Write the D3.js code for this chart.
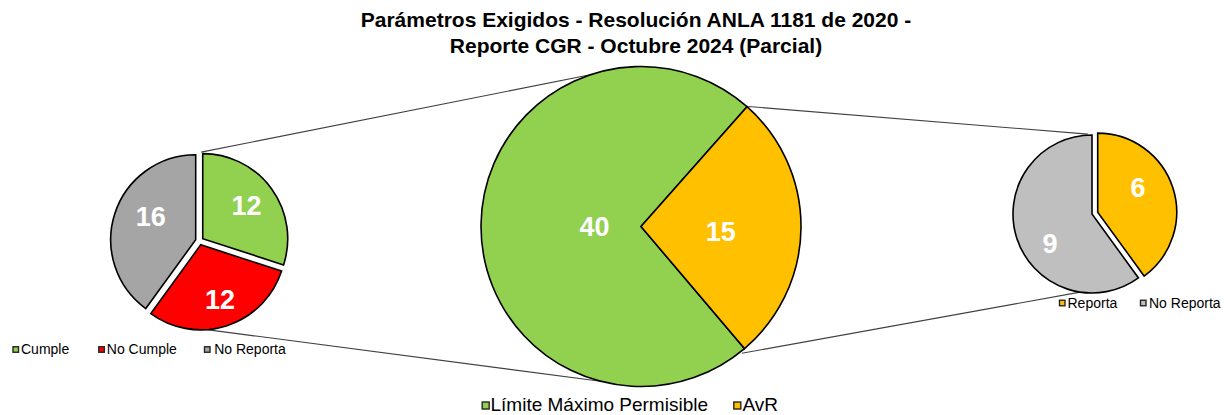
<!DOCTYPE html>
<html>
<head>
<meta charset="utf-8">
<script src="https://cdn.jsdelivr.net/npm/d3@7"></script>
<style>
  html, body { margin: 0; padding: 0; background: #fff; }
  svg { display: block; font-family: "Liberation Sans", Arial, sans-serif; }
</style>
</head>
<body>
<svg id="chart" width="1229" height="415"></svg>
<script>
// ---------- data ----------
const titleLines = ["Parámetros Exigidos - Resolución ANLA 1181 de 2020 -", "Reporte CGR - Octubre 2024 (Parcial)"];

const mainCategories = ["Límite Máximo Permisible", "AvR"];
const mainValues = [40, 15];

const leftCategories = ["Cumple", "No Cumple", "No Reporta"];
const leftValues = [12, 12, 16];

const rightCategories = ["Reporta", "No Reporta"];
const rightValues = [6, 9];

// ---------- styles / layout ----------
const mainColors = ["#92D050", "#FFC000"];
const leftColors = ["#92D050", "#FF0000", "#A5A5A5"];
const rightColors = ["#FFC000", "#BFBFBF"];
const deg = Math.PI / 180;

const pies = {
  main: { cx: 641, cy: 226.5, r: 160, start: 139.7, explode: [0, 0],
          labelFrac: [0.29, 0.5], labelNudge: [0, 2.5] },
  left: { cx: 199.5, cy: 241, r: 85, start: 0, explode: [4, 4, 4],
          labelFrac: [0.646, 0.685, 0.6], labelNudge: [-1, -1.4, 10] },
  right:{ cx: 1092, cy: 214, r: 79, start: 0, explode: [6, 0],
          labelFrac: [0.6, 0.645], labelNudge: [-13.6, -16.6] }
};

const svg = d3.select("#chart");

// title
svg.append("g").selectAll("text").data(titleLines).join("text")
  .attr("x", 636).attr("y", (d, i) => 27.3 + i * 26)
  .attr("text-anchor", "middle")
  .attr("font-size", 21).attr("font-weight", "bold").attr("fill", "#000")
  .text(d => d);

function polar(cx, cy, r, aDeg) {
  const a = aDeg * deg;
  return [cx + r * Math.sin(a), cy - r * Math.cos(a)];
}

function drawPie(cfg, values, colors) {
  const pie = d3.pie().sort(null).value(d => d)
    .startAngle(cfg.start * deg).endAngle((cfg.start + 360) * deg);
  const arcs = pie(values);
  const arc = d3.arc().innerRadius(0).outerRadius(cfg.r);
  const g = svg.append("g");
  arcs.forEach((a, i) => {
    const mid = (a.startAngle + a.endAngle) / 2 / deg;
    const [ox, oy] = polar(0, 0, cfg.explode[i], mid);
    a.cx = cfg.cx + ox; a.cy = cfg.cy + oy; a.mid = mid;
    g.append("path")
      .attr("d", arc(a))
      .attr("transform", `translate(${a.cx},${a.cy})`)
      .attr("fill", colors[i])
      .attr("stroke", "#000").attr("stroke-width", 1.6)
      .attr("stroke-linejoin", "miter");
  });
  arcs.forEach((a, i) => {
    const [lx, ly] = polar(a.cx, a.cy, cfg.r * cfg.labelFrac[i], a.mid + cfg.labelNudge[i]);
    g.append("text")
      .attr("x", lx).attr("y", ly).attr("dy", "0.36em")
      .attr("text-anchor", "middle")
      .attr("font-size", 27).attr("font-weight", "bold").attr("fill", "#fff")
      .text(a.data);
  });
  return arcs;
}

// connector lines (drawn first so pies are above)
const lines = svg.append("g");
const mainArcs = drawPie(pies.main, mainValues, mainColors);
const leftArcs = drawPie(pies.left, leftValues, leftColors);
const rightArcs = drawPie(pies.right, rightValues, rightColors);

const M = pies.main, L = pies.left, R = pies.right;
const connectors = [
  [polar(leftArcs[0].cx, leftArcs[0].cy, L.r + 1.5, -1), polar(M.cx, M.cy, M.r, -18.5)],
  [polar(leftArcs[1].cx, leftArcs[1].cy, L.r, 176), polar(M.cx, M.cy, M.r, 194.7)],
  [polar(M.cx, M.cy, M.r + 1, 41.8), polar(rightArcs[1].cx, rightArcs[1].cy, R.r + 1, -3)],
  [polar(M.cx, M.cy, M.r + 2, 141.5), polar(rightArcs[1].cx, rightArcs[1].cy, R.r, 188.6)]
];
lines.selectAll("line").data(connectors).join("line")
  .attr("x1", d => d[0][0]).attr("y1", d => d[0][1])
  .attr("x2", d => d[1][0]).attr("y2", d => d[1][1])
  .attr("stroke", "#404040").attr("stroke-width", 1.1);
lines.raise(); lines.lower();

// legends
function legend(items, colors, xs, textXs, yCenter, baseline, box, fontSize) {
  const g = svg.append("g");
  items.forEach((t, i) => {
    g.append("rect")
      .attr("x", xs[i] + 0.5).attr("y", yCenter - box / 2 + 0.5)
      .attr("width", box - 1).attr("height", box - 1)
      .attr("fill", colors[i]).attr("stroke", "#262626").attr("stroke-width", 1.4);
    g.append("text")
      .attr("x", textXs[i]).attr("y", baseline)
      .attr("font-size", fontSize).attr("fill", "#000")
      .text(t);
  });
}
legend(leftCategories, leftColors, [12.5, 98.3, 204], [21, 106.8, 214.2], 349.5, 353.5, 6.5, 14);
legend(rightCategories, rightColors, [1059, 1140], [1067.5, 1149], 303, 307.5, 6.5, 14);
legend(mainCategories, mainColors, [481.7, 733.3], [490.5, 742.5], 405.5, 410.5, 8, 19);
</script>
</body>
</html>
